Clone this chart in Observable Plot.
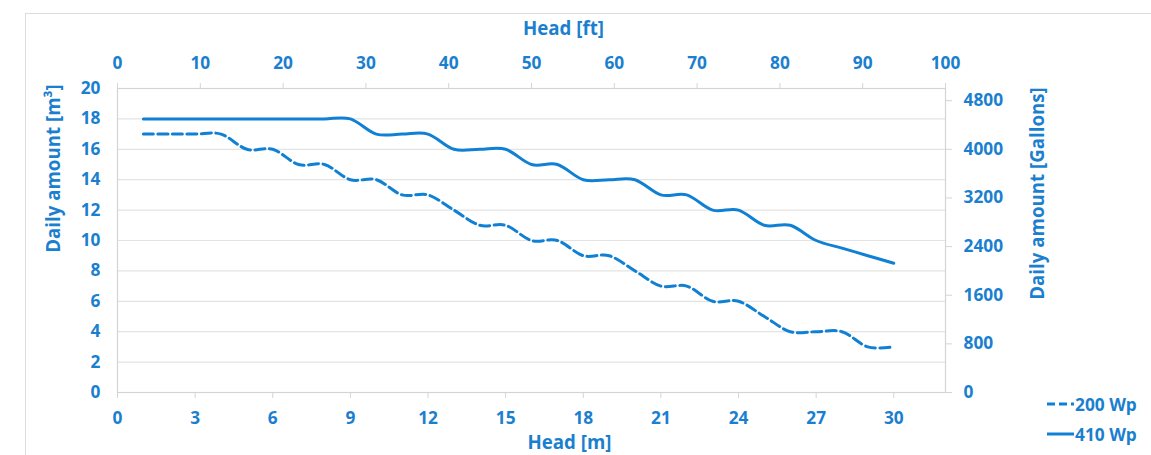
<!DOCTYPE html>
<html>
<head>
<meta charset="utf-8">
<script src="https://cdn.jsdelivr.net/npm/d3@7"></script>
<script src="https://cdn.jsdelivr.net/npm/@observablehq/plot@0.6"></script>
<style>
  html, body { margin: 0; padding: 0; background: #fff; overflow: hidden; }
  #wrap { position: relative; width: 1151px; height: 455px; }
  #border { position: absolute; left: 25px; top: 13px; width: 1200px; height: 500px; border: 1px solid #dcdcdc; box-sizing: border-box; }
  #chart { position: absolute; left: 0; top: 0; }
  #chart svg g[aria-label$="tick"] { stroke: #d4d4d4; }
  #legend { position: absolute; left: 1047px; top: 389px; font-family: "Open Sans", sans-serif; font-weight: bold; font-size: 17.3px; color: #1b7fcf; }
  .row { display: flex; align-items: center; height: 30px; }
  .row svg { margin-right: 1px; }
</style>
</head>
<body>
<div id="wrap">
  <div id="border"></div>
  <div id="chart"></div>
  <div id="legend"></div>
</div>
<script>
// Data
const headM = [1,2,3,4,5,6,7,8,9,10,11,12,13,14,15,16,17,18,19,20,21,22,23,24,25,26,27,28,29,30];
const wp200 = [17,17,17,17,16,16,15,15,14,14,13,13,12,11,11,10,10,9,9,8,7,7,6,6,5,4,4,4,3,3];
const wp410 = [18,18,18,18,18,18,18,18,18,17,17,17,16,16,16,15,15,14,14,14,13,13,12,12,11,11,10,9.5,9,8.5];
const seriesNames = ["200 Wp", "410 Wp"];
const mTicks = [0,3,6,9,12,15,18,21,24,27,30];
const ftTicks = [0,10,20,30,40,50,60,70,80,90,100];
const m3Ticks = [0,2,4,6,8,10,12,14,16,18,20];
const galTicks = [0,800,1600,2400,3200,4000,4800];
const xDomainM = [0, 32];
const xDomainFt = [0, 100];
const yDomainM3 = [0, 20];
const yDomainGal = [0, 5000];

const blue = "#1b7fcf";
const lineBlue = "#0f80d3";

const ftToM = f => f * (xDomainM[1] - xDomainM[0]) / (xDomainFt[1] - xDomainFt[0]);
const mToFt = m => Math.round(m * (xDomainFt[1] - xDomainFt[0]) / (xDomainM[1] - xDomainM[0]));
const galToM3 = g => g * (yDomainM3[1] - yDomainM3[0]) / (yDomainGal[1] - yDomainGal[0]);
const m3ToGal = v => Math.round(v * (yDomainGal[1] - yDomainGal[0]) / (yDomainM3[1] - yDomainM3[0]));

const d200 = headM.map((h, i) => ({h, v: wp200[i]}));
const d410 = headM.map((h, i) => ({h, v: wp410[i]}));

const titleSize = 18.7;

const chart = Plot.plot({
  width: 1151,
  height: 455,
  marginLeft: 117,
  marginRight: 206,
  marginTop: 88,
  marginBottom: 63,
  style: { fontFamily: "Open Sans, sans-serif", fontSize: "17.3px", fontWeight: "bold", color: blue, background: "transparent", overflow: "visible" },
  x: { domain: xDomainM },
  y: { domain: yDomainM3 },
  marks: [
    Plot.gridY(m3Ticks, { stroke: "#e3e3e3", strokeOpacity: 1, strokeWidth: 1.2 }),
    Plot.frame({ stroke: "#d4d4d4", strokeWidth: 1.2 }),
    Plot.axisY(m3Ticks, { anchor: "left", tickSize: 0, tickPadding: 17, label: null }),
    Plot.axisY(galTicks.map(galToM3), { anchor: "right", tickSize: 6, tickPadding: 12, label: null, tickFormat: d => String(m3ToGal(d)) }),
    Plot.axisX(mTicks, { anchor: "bottom", tickSize: 6, tickPadding: 13, label: null }),
    Plot.axisX(ftTicks.map(ftToM), { anchor: "top", tickSize: 6, tickPadding: 14, label: null, tickFormat: d => String(mToFt(d)) }),
    Plot.line(d200, { x: "h", y: "v", curve: "cardinal", stroke: lineBlue, strokeWidth: 3, strokeDasharray: "10,4.5" }),
    Plot.line(d410, { x: "h", y: "v", curve: "cardinal", stroke: lineBlue, strokeWidth: 3 }),
    Plot.text(["Head [m]"], { text: d => d, frameAnchor: "bottom", dx: 38, dy: 51, fontSize: titleSize, fill: blue, lineAnchor: "middle" }),
    Plot.text(["Head [ft]"], { text: d => d, frameAnchor: "top", dx: 32, dy: -59, fontSize: titleSize, fill: blue, lineAnchor: "middle" }),
    Plot.text(["Daily amount [m³]"], { text: d => d, frameAnchor: "left", textAnchor: "middle", lineAnchor: "middle", rotate: -90, dx: -63, dy: -72, fontSize: titleSize, fill: blue }),
    Plot.text(["Daily amount [Gallons]"], { text: d => d, frameAnchor: "right", textAnchor: "middle", lineAnchor: "middle", rotate: -90, dx: 93, dy: -47, fontSize: titleSize, fill: blue })
  ]
});
document.getElementById("chart").appendChild(chart);

// Legend
const legend = document.getElementById("legend");
seriesNames.forEach((name, i) => {
  const row = document.createElement("div");
  row.className = "row";
  const dash = i === 0 ? 'stroke-dasharray="8,4"' : "";
  row.innerHTML = `<svg width="27" height="6"><line x1="0" y1="3" x2="27" y2="3" stroke="${lineBlue}" stroke-width="3" ${dash}></line></svg><span>${name}</span>`;
  legend.appendChild(row);
});
</script>
</body>
</html>
